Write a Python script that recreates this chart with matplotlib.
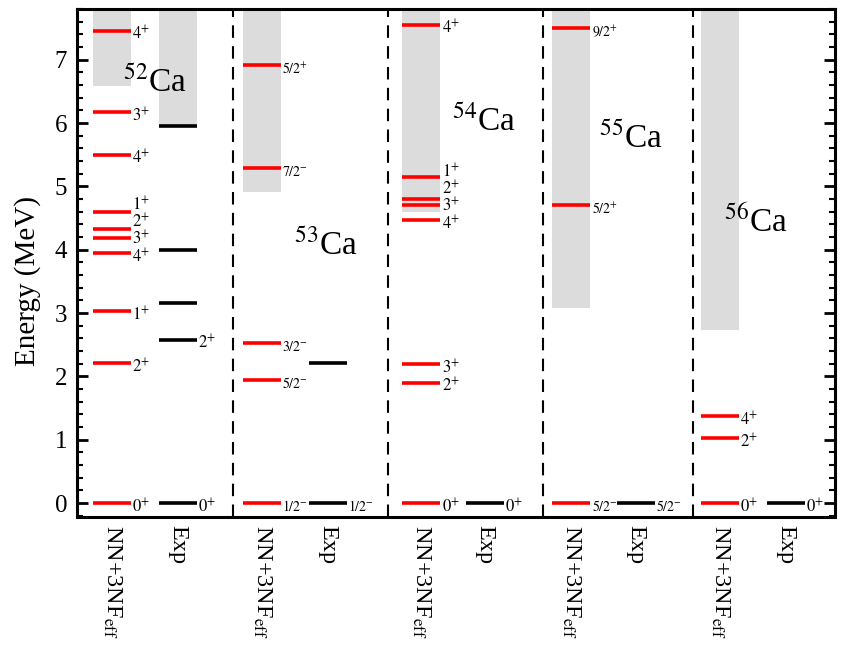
import matplotlib
matplotlib.use("Agg")
import matplotlib.pyplot as plt
from matplotlib.ticker import MultipleLocator

plt.rcParams['font.family'] = ['Liberation Serif', 'DejaVu Serif']
plt.rcParams['mathtext.fontset'] = 'stix'

# data (MeV)
isotopes = ['52', '53', '54', '55', '56']
theory_E = [
    [0.0, 2.21, 3.03, 3.95, 4.18, 4.32, 4.60, 5.50, 6.17, 7.46],
    [0.0, 1.94, 2.53, 5.29, 6.91],
    [0.0, 1.90, 2.19, 4.47, 4.71, 4.80, 5.14, 7.55],
    [0.0, 4.70, 7.50],
    [0.0, 1.02, 1.37],
]
theory_J = [
    ['0^{+}', '2^{+}', '1^{+}', '4^{+}', '3^{+}', '2^{+}', '1^{+}', '4^{+}', '3^{+}', '4^{+}'],
    ['1/2^{-}', '5/2^{-}', '3/2^{-}', '7/2^{-}', '5/2^{+}'],
    ['0^{+}', '2^{+}', '3^{+}', '4^{+}', '3^{+}', '2^{+}', '1^{+}', '4^{+}'],
    ['5/2^{-}', '5/2^{+}', '9/2^{+}'],
    ['0^{+}', '2^{+}', '4^{+}'],
]
exp_E = [
    [0.0, 2.58, 3.16, 4.00, 5.95],
    [0.0, 2.21],
    [0.0],
    [0.0],
    [0.0],
]
exp_J = [
    ['0^{+}', '2^{+}', '', '', ''],
    ['1/2^{-}', ''],
    ['0^{+}'],
    ['5/2^{-}'],
    ['0^{+}'],
]
# continuum (gray) start energies
theory_cont = [6.59, 4.91, 4.59, 3.08, 2.73]
exp_cont = [5.96, None, None, None, None]

# layout
th_x = [0.46, 2.44, 4.54, 6.52, 8.48]
ex_x = [1.33, 3.31, 5.38, 7.37, 9.35]
seps = [2.06, 4.10, 6.15, 8.13]
name_pos = [(1.03, 6.63), (3.28, 4.06), (5.37, 6.02), (7.31, 5.75), (8.96, 4.44)]
hw = 0.25
ytop = 7.8


def spread(E, gap=0.27):
    # push labels of close levels apart
    order = sorted(range(len(E)), key=lambda k: E[k])
    ys = [0.0] * len(E)
    prev = None
    for k in order:
        y = E[k] - 0.06
        if prev is not None and y < prev + gap:
            y = prev + gap
        ys[k] = y
        prev = y
    return ys


fig = plt.figure(figsize=(8.43, 6.47), dpi=100)
ax = fig.add_axes([77 / 843, 1 - 517 / 647, (835 - 77) / 843, (517 - 9) / 647])
ax.set_xlim(0, 10)
ax.set_ylim(-0.22, ytop)

for i in range(5):
    xt, xe = th_x[i], ex_x[i]
    if theory_cont[i] is not None:
        ax.fill_between([xt - hw, xt + hw], theory_cont[i], ytop, color='#dcdcdc', lw=0, zorder=1)
    if exp_cont[i] is not None:
        ax.fill_between([xe - hw, xe + hw], exp_cont[i], ytop, color='#dcdcdc', lw=0, zorder=1)
    ax.hlines(theory_E[i], xt - hw, xt + hw, color='red', lw=2.6, zorder=3)
    ax.hlines(exp_E[i], xe - hw, xe + hw, color='black', lw=2.6, zorder=3)
    ys = spread(theory_E[i])
    for j, lab in enumerate(theory_J[i]):
        fs = 10 if '/' in lab else 12
        ax.text(xt + hw + 0.02, ys[j], '$\\mathrm{' + lab + '}$', fontsize=fs,
                ha='left', va='center', zorder=4)
    for j, lab in enumerate(exp_J[i]):
        if lab:
            fs = 10 if '/' in lab else 12
            ax.text(xe + hw + 0.02, exp_E[i][j] - 0.06, '$\\mathrm{' + lab + '}$', fontsize=fs,
                    ha='left', va='center', zorder=4)
    nx, ny = name_pos[i]
    ax.text(nx, ny, '$^{' + isotopes[i] + '}$Ca', fontsize=24, ha='center', va='center', zorder=4)

for s in seps:
    ax.axvline(s, color='black', lw=1.5, ls=(0, (6, 4)), zorder=2)

ax.set_xticks(th_x + ex_x)
ax.set_xticklabels(['NN+3NF$_{\\mathrm{eff}}$'] * 5 + ['Exp'] * 5, rotation=270,
                   fontsize=17.5, va='top', ha='center')
ax.tick_params(axis='x', length=0, pad=6)

ax.yaxis.set_major_locator(MultipleLocator(1))
ax.yaxis.set_minor_locator(MultipleLocator(0.2))
ax.tick_params(axis='y', which='major', direction='in', length=8, width=2, left=True, right=True,
               labelsize=18, pad=7)
ax.tick_params(axis='y', which='minor', direction='in', length=4, width=1.5, left=True, right=True)
ax.set_ylabel('Energy (MeV)', fontsize=21)
ax.yaxis.set_label_coords(-0.047, 0.465)

for sp in ax.spines.values():
    sp.set_linewidth(2.2)

fig.savefig('out.png', dpi=100)
